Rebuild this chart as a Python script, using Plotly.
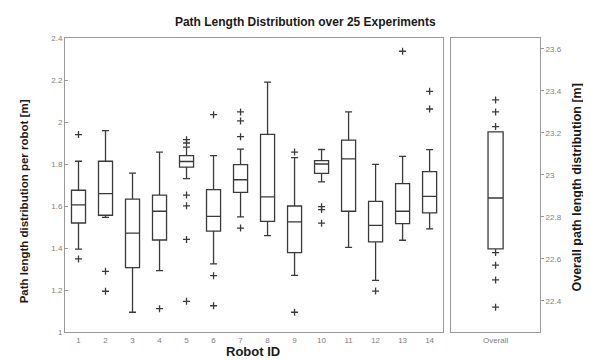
import plotly.graph_objects as go

# ---- data ----
robot_ids = list(range(1, 15))
q1 = [1.519, 1.556, 1.307, 1.438, 1.785, 1.480, 1.665, 1.527, 1.378, 1.755, 1.575, 1.429, 1.516, 1.567]
median = [1.605, 1.659, 1.471, 1.575, 1.812, 1.551, 1.725, 1.643, 1.524, 1.800, 1.824, 1.508, 1.575, 1.646]
q3 = [1.675, 1.813, 1.633, 1.652, 1.840, 1.678, 1.797, 1.941, 1.600, 1.816, 1.914, 1.622, 1.707, 1.764]
whisker_low = [1.395, 1.546, 1.094, 1.292, 1.730, 1.324, 1.548, 1.459, 1.270, 1.715, 1.403, 1.246, 1.437, 1.491]
whisker_high = [1.813, 1.959, 1.757, 1.857, 1.880, 1.840, 1.871, 2.190, 1.830, 1.869, 2.048, 1.798, 1.836, 1.868]
outliers = [
    [1.940, 1.348],
    [1.289, 1.194],
    [],
    [1.111],
    [1.916, 1.900, 1.652, 1.601, 1.441, 1.146],
    [2.035, 1.268, 1.125],
    [2.048, 2.005, 1.930, 1.495],
    [],
    [1.857, 1.094],
    [1.597, 1.583, 1.518],
    [],
    [1.195],
    [2.337],
    [2.146, 2.062],
]

overall_label = "Overall"
overall_q1 = 22.648
overall_median = 22.890
overall_q3 = 23.205
overall_low = 22.648
overall_high = 23.205
overall_outliers = [23.357, 23.300, 23.230, 22.630, 22.570, 22.500, 22.370]

left_ticks = [1, 1.2, 1.4, 1.6, 1.8, 2, 2.2, 2.4]
right_ticks = [22.4, 22.6, 22.8, 23, 23.2, 23.4, 23.6]

# ---- style ----
BOX_COLOR = "#3a3a3a"
AXIS_COLOR = "#9a9a9a"
TICK_FONT = dict(family="Liberation Sans, Arial, sans-serif", size=8, color="#808080")
LBL_FONT = dict(family="Liberation Sans, Arial, sans-serif", color="#1a1a1a")

fig = go.Figure()

fig.add_trace(go.Box(
    x=robot_ids, q1=q1, median=median, q3=q3,
    lowerfence=whisker_low, upperfence=whisker_high,
    boxpoints=False, width=0.52, whiskerwidth=0.5,
    fillcolor="rgba(255,255,255,0)",
    line=dict(color=BOX_COLOR, width=1.3),
    xaxis="x", yaxis="y", showlegend=False, hoverinfo="skip",
))

ox, oy = [], []
for rid, vals in zip(robot_ids, outliers):
    for v in vals:
        ox.append(rid)
        oy.append(v)
fig.add_trace(go.Scatter(
    x=ox, y=oy, mode="markers",
    marker=dict(symbol="cross-thin", size=5, line=dict(color=BOX_COLOR, width=1.3)),
    xaxis="x", yaxis="y", showlegend=False, hoverinfo="skip",
))

fig.add_trace(go.Box(
    x=[0], q1=[overall_q1], median=[overall_median], q3=[overall_q3],
    lowerfence=[overall_low], upperfence=[overall_high],
    boxpoints=False, width=0.17, whiskerwidth=0.5,
    fillcolor="rgba(255,255,255,0)",
    line=dict(color=BOX_COLOR, width=1.3),
    xaxis="x2", yaxis="y2", showlegend=False, hoverinfo="skip",
))
fig.add_trace(go.Scatter(
    x=[0] * len(overall_outliers), y=overall_outliers, mode="markers",
    marker=dict(symbol="cross-thin", size=5, line=dict(color=BOX_COLOR, width=1.3)),
    xaxis="x2", yaxis="y2", showlegend=False, hoverinfo="skip",
))

axis_common = dict(showline=True, mirror=True, linecolor=AXIS_COLOR, linewidth=1,
                   showgrid=False, zeroline=False, tickfont=TICK_FONT)

fig.update_layout(
    width=591, height=360,
    margin=dict(l=57, r=59, t=30, b=36),
    paper_bgcolor="white", plot_bgcolor="white",
    title=dict(text="<b>Path Length Distribution over 25 Experiments</b>",
               x=0.503, xanchor="center", y=0.962, yanchor="middle",
               font=dict(LBL_FONT, size=12)),
    xaxis=dict(axis_common, domain=[0, 0.796], range=[0.5, 14.5],
               tickmode="array", tickvals=robot_ids, ticktext=[str(r) for r in robot_ids],
               ticks="", anchor="y"),
    yaxis=dict(axis_common, range=[1, 2.4], tickmode="array", tickvals=left_ticks,
               ticktext=[f"{t:g}" for t in left_ticks],
               ticks="inside", ticklen=3, tickcolor=AXIS_COLOR, anchor="x"),
    xaxis2=dict(axis_common, domain=[0.813, 1], range=[-0.5, 0.5],
                tickmode="array", tickvals=[0], ticktext=[overall_label],
                ticks="", anchor="y2"),
    yaxis2=dict(axis_common, range=[22.252, 23.652], side="right", anchor="x2",
                tickmode="array", tickvals=right_ticks,
                ticktext=[f"{t:g}" for t in right_ticks],
                ticks="outside", ticklen=3, tickcolor=AXIS_COLOR),
    annotations=[
        dict(text="<b>Path length distribution per robot [m]</b>", xref="paper", yref="paper",
             x=-0.086, y=0.445, textangle=-90, showarrow=False,
             font=dict(LBL_FONT, size=11.5), xanchor="center", yanchor="middle"),
        dict(text="<b>Overall path length distribution [m]</b>", xref="paper", yref="paper",
             x=1.077, y=0.49, textangle=-90, showarrow=False,
             font=dict(LBL_FONT, size=12.5), xanchor="center", yanchor="middle"),
        dict(text="<b>Robot ID</b>", xref="paper", yref="paper",
             x=0.396, y=-0.066, showarrow=False,
             font=dict(LBL_FONT, size=13), xanchor="center", yanchor="middle"),
    ],
)

fig.write_html("out.html")
